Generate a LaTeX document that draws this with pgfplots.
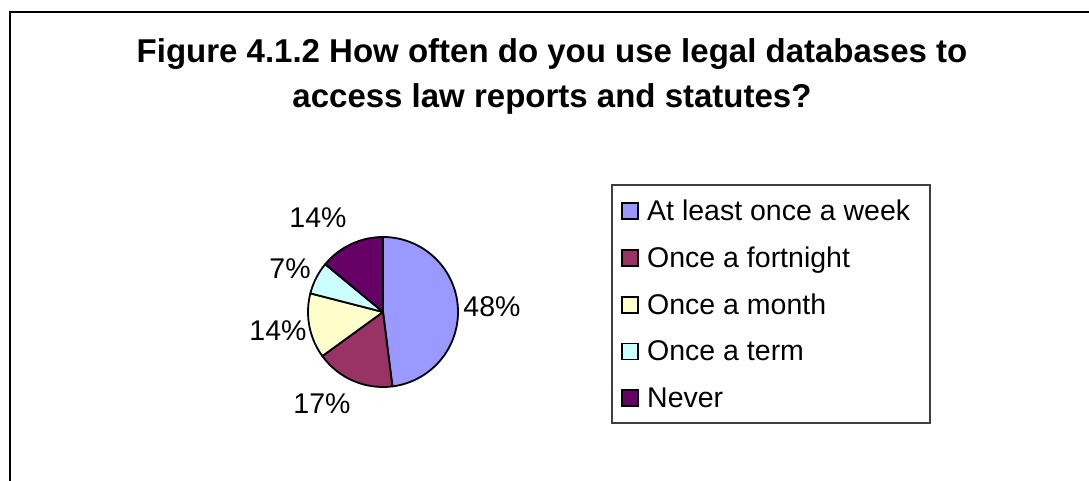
\documentclass[border=0pt]{standalone}
\usepackage{pgfplots}
\pgfplotsset{compat=1.18}
\usepackage{pgfplotstable}
\usepackage{fontspec}
\setmainfont{Liberation Sans}
\definecolor{cA}{HTML}{9999FF}
\definecolor{cB}{HTML}{993366}
\definecolor{cC}{HTML}{FFFFCC}
\definecolor{cD}{HTML}{CCFFFF}
\definecolor{cE}{HTML}{660066}

\pgfplotstableread{
name value
A 48
B 17
C 14
D 7
E 14
}\piedata

\begin{document}
\begin{tikzpicture}
\pgfplotstablegetelem{0}{value}\of\piedata \let\vA\pgfplotsretval
\pgfplotstablegetelem{1}{value}\of\piedata \let\vB\pgfplotsretval
\pgfplotstablegetelem{2}{value}\of\piedata \let\vC\pgfplotsretval
\pgfplotstablegetelem{3}{value}\of\piedata \let\vD\pgfplotsretval
\pgfplotstablegetelem{4}{value}\of\piedata \let\vE\pgfplotsretval
\pgfmathsetmacro\aA{90}
\pgfmathsetmacro\aB{\aA-3.6*\vA}
\pgfmathsetmacro\aC{\aB-3.6*\vB}
\pgfmathsetmacro\aD{\aC-3.6*\vC}
\pgfmathsetmacro\aE{\aD-3.6*\vD}
\pgfmathsetmacro\aF{\aE-3.6*\vE}
\useasboundingbox (0,0) rectangle (1089pt,481pt);
\clip (0,0) rectangle (1089pt,481pt);
\begin{axis}[at={(0pt,0pt)}, anchor=south west, width=1089pt, height=481pt,
  scale only axis, xmin=0, xmax=1089, ymin=0, ymax=481, y dir=reverse,
  hide axis, clip=false]
\addplot[draw=none] coordinates {(0,0) (1089,481)};
% outer frame
\draw[line width=2.6pt] (axis cs:10,700) -- (axis cs:10,12) -- (axis cs:1300,12);
% title
\node[anchor=base, font=\bfseries\fontsize{33}{40}\selectfont] at (axis cs:552,62) {Figure 4.1.2 How often do you use legal databases to};
\node[anchor=base, font=\bfseries\fontsize{33}{40}\selectfont] at (axis cs:552,107) {access law reports and statutes?};
% pie
\tikzset{slice/.style={draw=black, line width=1.8pt, line join=round}}
\filldraw[slice, fill=cA] (axis cs:383,312) -- ++(\aA:75pt) arc[start angle=\aA, end angle=\aB, radius=75pt] -- cycle;
\filldraw[slice, fill=cB] (axis cs:383,312) -- ++(\aB:75pt) arc[start angle=\aB, end angle=\aC, radius=75pt] -- cycle;
\filldraw[slice, fill=cC] (axis cs:383,312) -- ++(\aC:75pt) arc[start angle=\aC, end angle=\aD, radius=75pt] -- cycle;
\filldraw[slice, fill=cD] (axis cs:383,312) -- ++(\aD:75pt) arc[start angle=\aD, end angle=\aE, radius=75pt] -- cycle;
\filldraw[slice, fill=cE] (axis cs:383,312) -- ++(\aE:75pt) arc[start angle=\aE, end angle=\aF, radius=75pt] -- cycle;
% labels
\tikzset{lab/.style={anchor=base, font=\fontsize{28.5}{30}\selectfont, inner sep=0pt}}
\node[lab] at (axis cs:492,316.2) {\vA\%};
\node[lab] at (axis cs:322,413.2) {\vB\%};
\node[lab] at (axis cs:278,340.2) {\vC\%};
\node[lab] at (axis cs:290,278.2) {\vD\%};
\node[lab] at (axis cs:318,227.2) {\vE\%};
% legend
\draw[line width=1.3pt, draw=black!75] (axis cs:612,185) rectangle (axis cs:930,423);
\tikzset{lsq/.style={draw=black, line width=1.5pt},
  ltx/.style={anchor=base west, font=\fontsize{28.5}{30}\selectfont, inner sep=0pt}}
\filldraw[lsq, fill=cA] (axis cs:622,203) rectangle (axis cs:638,219);
\node[ltx] at (axis cs:647,220.5) {At least once a week};
\filldraw[lsq, fill=cB] (axis cs:622,250) rectangle (axis cs:638,266);
\node[ltx] at (axis cs:647,267.2) {Once a fortnight};
\filldraw[lsq, fill=cC] (axis cs:622,297) rectangle (axis cs:638,313);
\node[ltx] at (axis cs:647,314.2) {Once a month};
\filldraw[lsq, fill=cD] (axis cs:622,343.5) rectangle (axis cs:638,359.5);
\node[ltx] at (axis cs:647,360.7) {Once a term};
\filldraw[lsq, fill=cE] (axis cs:622,390) rectangle (axis cs:638,406);
\node[ltx] at (axis cs:647,407.2) {Never};
\end{axis}
\end{tikzpicture}
\end{document}
